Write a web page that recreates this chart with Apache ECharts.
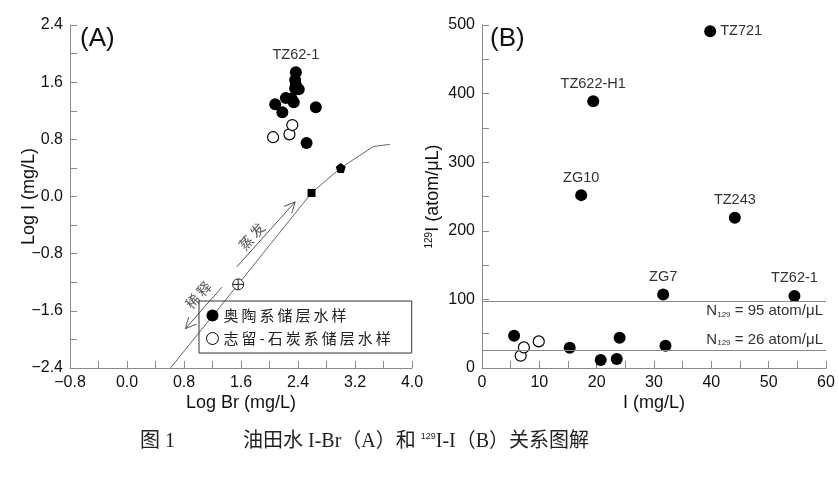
<!DOCTYPE html>
<html>
<head>
    <meta charset="utf-8" />
    <title>I-Br 与 129I-I 关系图解</title>
    <script src="https://cdn.jsdelivr.net/npm/echarts@6/dist/echarts.min.js"></script>
    <style>
        html, body { margin: 0; padding: 0; background: #fff; }
        #main { width: 839px; height: 479px; }
    </style>
</head>
<body>
    <div id="main"></div>

    <script>
        //图A：Log Br - Log I
        var ordoA_x = [2.37, 2.36, 2.37, 2.41, 2.36, 2.23, 2.31, 2.34, 2.08, 2.18, 2.65, 2.52];
        var ordoA_y = [1.74, 1.63, 1.56, 1.50, 1.51, 1.38, 1.37, 1.32, 1.29, 1.18, 1.25, 0.75];
        var ordoA_names = ['TZ62-1', '', '', '', '', '', '', '', '', '', '', ''];
        var siluA_x = [2.05, 2.28, 2.32];
        var siluA_y = [0.83, 0.87, 1.00];

        //海水蒸发曲线
        var seaLine_x = [0.61, 1.56, 2.59, 3.00, 3.46, 3.69];
        var seaLine_y = [-2.4, -1.23, 0.05, 0.40, 0.70, 0.73];
        var seawaterPt = [1.56, -1.23];
        var squarePt = [2.59, 0.05];
        var pentaPt = [3.00, 0.40];

        //箭头：起点x,y，终点x,y，文字x,y
        var arrowData = [
            [1.54, -0.985, 2.36, -0.075, 1.75, -0.56],
            [1.33, -1.27, 0.82, -1.85, 1.00, -1.38]
        ];
        var arrowTexts = ['蒸\u2009发', '稀\u2009释'];

        //图B：I - 129I
        var ordoB_x = [39.8, 19.4, 17.3, 44.1, 31.6, 54.5, 5.6, 15.3, 24.0, 20.7, 23.5, 32.0];
        var ordoB_y = [491, 389, 252, 219, 107, 105, 47, 29.5, 44, 11.6, 13.1, 32.5];
        var ordoB_names = ['TZ721', 'TZ622-H1', 'ZG10', 'TZ243', 'ZG7', 'TZ62-1', '', '', '', '', '', ''];
        var siluB_x = [6.75, 7.3, 9.9];
        var siluB_y = [17.9, 30, 38.8];
        var refLines = [98, 26];
        var refLabels = ['95', '26'];

        var nameOrdo = '奥陶系储层水样';
        var nameSilu = '志留-石炭系储层水样';

        var latin = "'Liberation Sans', Arial, sans-serif";
        var captionFont = "'Liberation Serif', 'Noto Sans CJK SC'";
        var axisColor = '#8a8a8a';

        function fmtA(v) {
            var k = Math.round(v * 10);
            if (k % 8 !== 0) return '';
            return (k / 10).toFixed(1).replace('-', '\u2212');
        }

        function pts(xs, ys, names) {
            var out = [];
            for (var i = 0; i < xs.length; i++) {
                var item = { value: [xs[i], ys[i]] };
                if (names && names[i]) {
                    item.name = names[i];
                    item.label = { show: true, formatter: '{b}', position: names[i] == 'TZ721' ? 'right' : 'top' };
                }
                out.push(item);
            }
            return out;
        }

        function axisBase() {
            return {
                axisLine: { onZero: false, lineStyle: { color: axisColor, width: 1 } },
                axisTick: { inside: true, length: 7, lineStyle: { color: axisColor } },
                splitLine: { show: false },
                axisLabel: { color: '#111', fontSize: 16, fontFamily: latin, margin: 7 },
                nameMoveOverlap: false,
                nameTextStyle: { color: '#111', fontSize: 18, fontFamily: latin }
            };
        }

        var myChart = echarts.init(document.getElementById('main'), null, { renderer: 'canvas' });

        var xA = axisBase(), yA = axisBase(), xB = axisBase(), yB = axisBase();
        Object.assign(xA, {
            type: 'value', gridIndex: 0, min: -0.8, max: 4.0, interval: 0.4,
            name: 'Log Br (mg/L)', nameLocation: 'middle', nameGap: 26
        });
        xA.axisLabel.formatter = fmtA;
        Object.assign(yA, {
            type: 'value', gridIndex: 0, min: -2.4, max: 2.4, interval: 0.4,
            name: 'Log I (mg/L)', nameLocation: 'middle', nameRotate: 90, nameGap: 32
        });
        yA.axisLabel.formatter = fmtA;
        Object.assign(xB, {
            type: 'value', gridIndex: 1, min: 0, max: 60, interval: 5,
            name: 'I (mg/L)', nameLocation: 'middle', nameGap: 26
        });
        xB.axisLabel.formatter = function (v) { return v % 10 === 0 ? String(v) : ''; };
        Object.assign(yB, {
            type: 'value', gridIndex: 1, min: 0, max: 500, interval: 50,
            name: '{sup|129}I (atom/μL)', nameLocation: 'middle', nameRotate: 90, nameGap: 40
        });
        yB.axisLabel.formatter = function (v) { return v % 100 === 0 ? String(v) : ''; };
        yB.nameTextStyle.rich = { sup: { fontSize: 10, fontFamily: latin, color: '#111', verticalAlign: 'top' } };

        var filledStyle = { color: '#000', opacity: 1 };
        var openStyle = { color: '#fff', borderColor: '#000', borderWidth: 1.2, opacity: 1 };
        var ptLabel = { color: '#333', fontSize: 14.5, fontFamily: latin, distance: 4 };

        var option = {
            animation: false,
            backgroundColor: '#fff',
            grid: [
                { left: 70, top: 25, width: 342, height: 343, outerBoundsMode: 'none' },
                { left: 482, top: 25, width: 344, height: 343, outerBoundsMode: 'none' }
            ],
            title: [
                { text: '(A)', left: 80, top: 26, padding: 0, textStyle: { fontSize: 26, fontWeight: 'normal', fontFamily: latin, color: '#111' } },
                { text: '(B)', left: 490, top: 26, padding: 0, textStyle: { fontSize: 26, fontWeight: 'normal', fontFamily: latin, color: '#111' } }
            ],
            legend: {
                data: [
                    { name: nameOrdo, icon: 'circle' },
                    { name: nameSilu, icon: 'circle', itemStyle: { color: '#fff', borderColor: '#000', borderWidth: 1 } }
                ],
                orient: 'vertical', left: 199, top: 301,
                itemWidth: 12, itemHeight: 12, itemGap: 8, selectedMode: false,
                borderColor: '#333', borderWidth: 1, padding: [7, 21, 7, 7],
                textStyle: { fontSize: 15, color: '#222', fontFamily: "'Noto Sans CJK SC'" },
                formatter: function (n) { return n.split('').join('\u2009'); }
            },
            xAxis: [xA, xB],
            yAxis: [yA, yB],
            graphic: [
                {
                    type: 'text', left: 140, top: 432,
                    style: { text: '图 1', fontSize: 20, fill: '#222', fontFamily: captionFont }
                },
                {
                    type: 'text', left: 243, top: 432,
                    style: {
                        text: '油田水 I-Br（A）和 {sup|129}I-I（B）关系图解',
                        fontSize: 20, fill: '#222', fontFamily: captionFont,
                        rich: { sup: { fontSize: 9, verticalAlign: 'top', fill: '#222', fontFamily: latin } }
                    }
                }
            ],
            series: [
                {
                    name: 'seawater', type: 'line', xAxisIndex: 0, yAxisIndex: 0,
                    data: seaLine_x.map(function (x, i) { return [x, seaLine_y[i]]; }),
                    symbol: 'none', lineStyle: { color: '#666', width: 1 }, silent: true, z: 1
                },
                {
                    type: 'custom', xAxisIndex: 0, yAxisIndex: 0, silent: true, z: 1,
                    data: arrowData,
                    renderItem: function (params, api) {
                        var p1 = api.coord([api.value(0), api.value(1)]);
                        var p2 = api.coord([api.value(2), api.value(3)]);
                        var pt = api.coord([api.value(4), api.value(5)]);
                        var ang = Math.atan2(p2[1] - p1[1], p2[0] - p1[0]);
                        var L = 12, a = Math.PI / 7;
                        var h1 = [p2[0] - L * Math.cos(ang - a), p2[1] - L * Math.sin(ang - a)];
                        var h2 = [p2[0] - L * Math.cos(ang + a), p2[1] - L * Math.sin(ang + a)];
                        return {
                            type: 'group',
                            children: [
                                { type: 'line', shape: { x1: p1[0], y1: p1[1], x2: p2[0], y2: p2[1] }, style: { stroke: '#555', lineWidth: 1 } },
                                { type: 'polyline', shape: { points: [h1, p2, h2] }, style: { stroke: '#555', fill: null, lineWidth: 1 } },
                                {
                                    type: 'text', x: pt[0], y: pt[1], rotation: 48 * Math.PI / 180,
                                    style: { text: arrowTexts[params.dataIndex], fontSize: 14, fill: '#555', align: 'center', verticalAlign: 'middle', fontFamily: "'Noto Sans CJK SC'" }
                                }
                            ]
                        };
                    }
                },
                {
                    type: 'scatter', xAxisIndex: 0, yAxisIndex: 0, silent: true, z: 3,
                    data: [seawaterPt],
                    symbol: 'path://M0,10 A10,10 0 1,1 20,10 A10,10 0 1,1 0,10 Z M10,0 L10,20 M0,10 L20,10',
                    symbolSize: 11, itemStyle: { color: '#fff', borderColor: '#222', borderWidth: 1, opacity: 1 }
                },
                {
                    type: 'scatter', xAxisIndex: 0, yAxisIndex: 0, silent: true, z: 3,
                    data: [squarePt], symbol: 'rect', symbolSize: 8, itemStyle: { color: '#000', opacity: 1 }
                },
                {
                    type: 'scatter', xAxisIndex: 0, yAxisIndex: 0, silent: true, z: 3,
                    data: [pentaPt],
                    symbol: 'path://M10,0 L19.5,6.9 L15.9,18.1 L4.1,18.1 L0.5,6.9 Z',
                    symbolSize: 10, itemStyle: { color: '#000', opacity: 1 }
                },
                {
                    name: nameOrdo, type: 'scatter', xAxisIndex: 0, yAxisIndex: 0, z: 4,
                    data: pts(ordoA_x, ordoA_y, ordoA_names), symbol: 'circle', symbolSize: 12,
                    itemStyle: filledStyle, label: ptLabel
                },
                {
                    name: nameSilu, type: 'scatter', xAxisIndex: 0, yAxisIndex: 0, z: 4,
                    data: pts(siluA_x, siluA_y), symbol: 'circle', symbolSize: 11,
                    itemStyle: openStyle
                },
                {
                    name: nameOrdo, type: 'scatter', xAxisIndex: 1, yAxisIndex: 1, z: 4,
                    data: pts(ordoB_x, ordoB_y, ordoB_names), symbol: 'circle', symbolSize: 12,
                    itemStyle: filledStyle, label: ptLabel,
                    markLine: {
                        silent: true, symbol: ['none', 'none'], animation: false,
                        lineStyle: { color: '#888', type: 'solid', width: 1 },
                        label: {
                            show: true, color: '#333', fontSize: 15, fontFamily: latin, distance: 3,
                            rich: { sub: { fontSize: 8, color: '#333', verticalAlign: 'bottom', fontFamily: latin } }
                        },
                        data: refLines.map(function (v, i) {
                            return {
                                yAxis: v,
                                label: {
                                    formatter: 'N{sub|129} = ' + refLabels[i] + ' atom/μL',
                                    position: i === 0 ? 'insideEndBottom' : 'insideEndTop'
                                }
                            };
                        })
                    }
                },
                {
                    name: nameSilu, type: 'scatter', xAxisIndex: 1, yAxisIndex: 1, z: 4,
                    data: pts(siluB_x, siluB_y), symbol: 'circle', symbolSize: 11,
                    itemStyle: openStyle
                }
            ]
        };
        myChart.setOption(option);
    </script>
</body>
</html>
